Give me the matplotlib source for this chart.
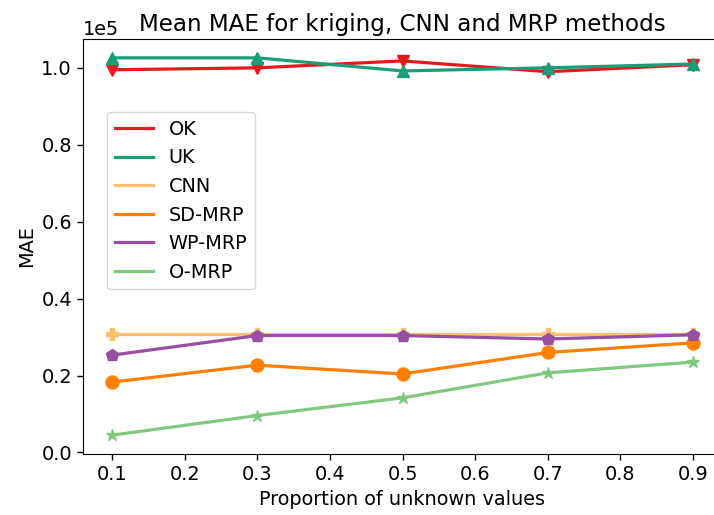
import matplotlib
matplotlib.use("Agg")
import matplotlib.pyplot as plt
from matplotlib.lines import Line2D

x = [0.1, 0.3, 0.5, 0.7, 0.9]
ok = [99500, 100000, 101800, 99000, 100800]
uk = [102600, 102600, 99200, 100000, 101000]
cnn = [30900, 30900, 30900, 30900, 30900]
sd_mrp = [18300, 22700, 20400, 26000, 28500]
wp_mrp = [25300, 30400, 30400, 29500, 30600]
o_mrp = [4500, 9600, 14200, 20700, 23500]

labels = ["OK", "UK", "CNN", "SD-MRP", "WP-MRP", "O-MRP"]
series = [ok, uk, cnn, sd_mrp, wp_mrp, o_mrp]
colors = ["#e41a1c", "#1b9e77", "#fdbf6f", "#ff7f00", "#984ea3", "#7fc97f"]
markers = ["v", "^", "P", "o", "p", "*"]

fs = 13.85
fig = plt.figure(figsize=(7.14, 5.15), dpi=100)
ax = fig.add_axes([83 / 714, 61 / 515, 639 / 714, 415 / 515])
for s, lab, c, m in zip(series, labels, colors, markers):
    ax.plot(x, s, color=c, marker=m, markersize=9.3, linewidth=2.3, label=lab)

ax.set_xlim(0.06, 0.94)
ax.set_ylim(-400, 107500)
ax.ticklabel_format(axis="y", style="sci", scilimits=(0, 0))
ax.set_xticks([0.1, 0.2, 0.3, 0.4, 0.5, 0.6, 0.7, 0.8, 0.9])
ax.tick_params(labelsize=fs, length=4.5, width=1.0)
ax.yaxis.get_offset_text().set_fontsize(fs)
ax.set_xlabel("Proportion of unknown values", fontsize=fs)
ax.set_ylabel("MAE", fontsize=fs)
ax.set_title("Mean MAE for kriging, CNN and MRP methods", fontsize=16.6)
handles = [Line2D([], [], color=c, linewidth=2.3) for c in colors]
ax.legend(handles, labels, loc="upper left", bbox_to_anchor=(24 / 639, 342 / 415),
          borderaxespad=0, fontsize=fs, handlelength=2)
fig.savefig("out.png", dpi=100)
